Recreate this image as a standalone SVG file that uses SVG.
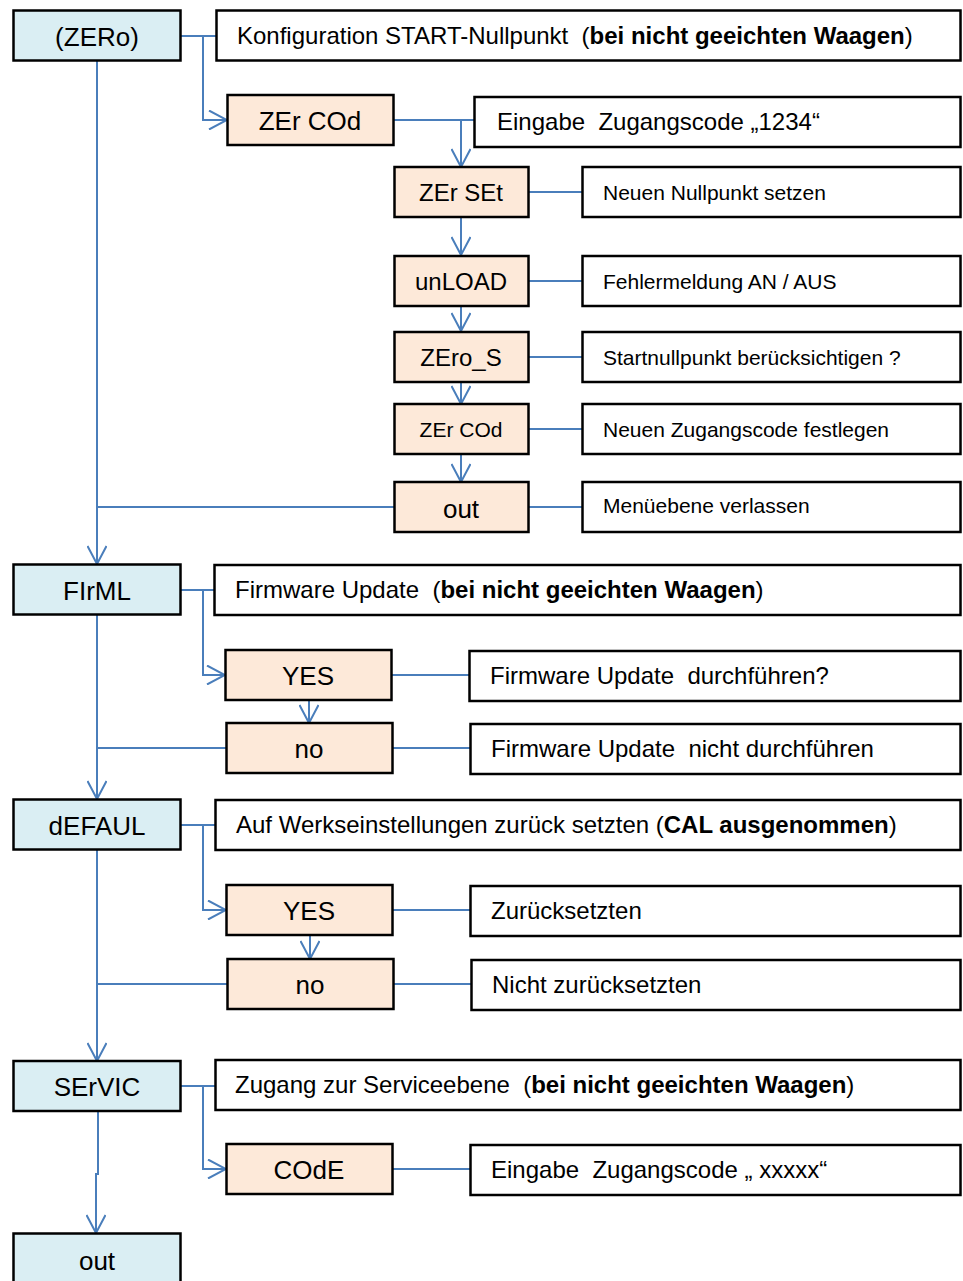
<svg xmlns="http://www.w3.org/2000/svg" width="963" height="1281" viewBox="0 0 963 1281">
<style>
.bg{fill:#ffffff}
.main{fill:#DAEEF3;stroke:#000;stroke-width:2.5}
.sub{fill:#FDE9D9;stroke:#000;stroke-width:2.5}
.desc{fill:#ffffff;stroke:#000;stroke-width:2.5}
text{white-space:pre}
.lbl{font-family:"Liberation Sans",Arial,sans-serif;font-size:26px;fill:#000;text-anchor:middle}
.lbl24{font-family:"Liberation Sans",Arial,sans-serif;font-size:24px;fill:#000;text-anchor:middle}
.lbl21{font-family:"Liberation Sans",Arial,sans-serif;font-size:21px;fill:#000;text-anchor:middle}
.t24{font-family:"Liberation Sans",Arial,sans-serif;font-size:24px;fill:#000}
.t21{font-family:"Liberation Sans",Arial,sans-serif;font-size:21px;fill:#000}
.b{font-weight:bold}
.c{fill:none;stroke:#4A7EBB;stroke-width:2}
.ca{fill:none;stroke:#4A7EBB;stroke-width:2;marker-end:url(#arr)}
</style>
<defs>
<marker id="arr" viewBox="0 0 20 20" markerWidth="20" markerHeight="20" markerUnits="userSpaceOnUse" refX="19" refY="10" orient="auto">
<path d="M1,0.5 L19,10 L1,19.5" fill="none" stroke="#4A7EBB" stroke-width="2"/>
</marker>
</defs>
<rect class="bg" x="0" y="0" width="963" height="1281"/>

<g id="connectors">
<path class="c" d="M180,36 H216"/>
<path class="ca" d="M203,36 V120 H227"/>
<path class="c" d="M393,120 H474"/>
<path class="ca" d="M461,120 V167"/>
<path class="ca" d="M461,217 V255"/>
<path class="ca" d="M461,306 V331"/>
<path class="ca" d="M461,382 V404"/>
<path class="ca" d="M461,454 V482"/>
<path class="c" d="M528,192 H582"/>
<path class="c" d="M528,281 H582"/>
<path class="c" d="M528,357 H582"/>
<path class="c" d="M528,429 H582"/>
<path class="c" d="M528,507 H582"/>
<path class="c" d="M394,507 H97"/>
<path class="ca" d="M97,61 V564"/>
<path class="c" d="M181,590 H214"/>
<path class="ca" d="M203,590 V675 H225"/>
<path class="c" d="M391,675 H469"/>
<path class="ca" d="M309,700 V723"/>
<path class="c" d="M393,748 H470"/>
<path class="c" d="M226,748 H97"/>
<path class="ca" d="M97,615 V799"/>
<path class="c" d="M181,825 H215"/>
<path class="ca" d="M203,825 V910 H226"/>
<path class="c" d="M392,910 H470"/>
<path class="ca" d="M310,935 V959"/>
<path class="c" d="M393,984 H471"/>
<path class="c" d="M227,984 H97"/>
<path class="ca" d="M97,850 V1061"/>
<path class="c" d="M180,1086 H215"/>
<path class="ca" d="M203,1086 V1169 H226"/>
<path class="c" d="M392,1169 H470"/>
<path class="ca" d="M98,1111 V1174 H96 V1233"/>
</g>

<g id="n-zero">
<rect class="main" x="13.5" y="10.5" width="167" height="50"/>
<text class="lbl" x="97" y="46">(ZERo)</text>
</g>
<g id="d-zero">
<rect class="desc" x="216.5" y="10.5" width="744" height="50"/>
<text class="t24" x="237" y="44">Konfiguration START-Nullpunkt  (<tspan class="b">bei nicht geeichten Waagen</tspan>)</text>
</g>
<g id="n-zercod">
<rect class="sub" x="227.5" y="95" width="166" height="50"/>
<text class="lbl" x="310" y="130">ZEr COd</text>
</g>
<g id="d-zercod">
<rect class="desc" x="474.5" y="97" width="486" height="50"/>
<text class="t24" x="497" y="130">Eingabe  Zugangscode „1234“</text>
</g>
<g id="n-zerset">
<rect class="sub" x="394.5" y="167" width="134" height="50"/>
<text class="lbl24" x="461" y="201">ZEr SEt</text>
</g>
<g id="d-zerset">
<rect class="desc" x="582.5" y="167" width="378" height="50"/>
<text class="t21" x="603" y="200">Neuen Nullpunkt setzen</text>
</g>
<g id="n-unload">
<rect class="sub" x="394.5" y="256" width="134" height="50"/>
<text class="lbl24" x="461" y="290">unLOAD</text>
</g>
<g id="d-unload">
<rect class="desc" x="582.5" y="256" width="378" height="50"/>
<text class="t21" x="603" y="289">Fehlermeldung AN / AUS</text>
</g>
<g id="n-zeros">
<rect class="sub" x="394.5" y="332" width="134" height="50"/>
<text class="lbl24" x="461" y="366">ZEro_S</text>
</g>
<g id="d-zeros">
<rect class="desc" x="582.5" y="332" width="378" height="50"/>
<text class="t21" x="603" y="365">Startnullpunkt berücksichtigen ?</text>
</g>
<g id="n-zercod2">
<rect class="sub" x="394.5" y="404" width="134" height="50"/>
<text class="lbl21" x="461" y="437">ZEr COd</text>
</g>
<g id="d-zercod2">
<rect class="desc" x="582.5" y="404" width="378" height="50"/>
<text class="t21" x="603" y="437">Neuen Zugangscode festlegen</text>
</g>
<g id="n-out1">
<rect class="sub" x="394.5" y="482" width="134" height="50"/>
<text class="lbl" x="461" y="518">out</text>
</g>
<g id="d-out1">
<rect class="desc" x="582.5" y="482" width="378" height="50"/>
<text class="t21" x="603" y="513">Menüebene verlassen</text>
</g>

<g id="n-firml">
<rect class="main" x="13.5" y="564.5" width="167" height="50"/>
<text class="lbl" x="97" y="600">FIrML</text>
</g>
<g id="d-firml">
<rect class="desc" x="214.5" y="565" width="746" height="50"/>
<text class="t24" x="235" y="598">Firmware Update  (<tspan class="b">bei nicht geeichten Waagen</tspan>)</text>
</g>
<g id="n-yes1">
<rect class="sub" x="225.5" y="650" width="166" height="50"/>
<text class="lbl" x="308" y="685">YES</text>
</g>
<g id="d-yes1">
<rect class="desc" x="469.5" y="651" width="491" height="50"/>
<text class="t24" x="490" y="684">Firmware Update  durchführen?</text>
</g>
<g id="n-no1">
<rect class="sub" x="226.5" y="723" width="166" height="50"/>
<text class="lbl" x="309" y="758">no</text>
</g>
<g id="d-no1">
<rect class="desc" x="470.5" y="724" width="490" height="50"/>
<text class="t24" x="491" y="757">Firmware Update  nicht durchführen</text>
</g>

<g id="n-default">
<rect class="main" x="13.5" y="799.5" width="167" height="50"/>
<text class="lbl" x="97" y="835">dEFAUL</text>
</g>
<g id="d-default">
<rect class="desc" x="215.5" y="800" width="745" height="50"/>
<text class="t24" x="236" y="833">Auf Werkseinstellungen zurück setzten (<tspan class="b">CAL ausgenommen</tspan>)</text>
</g>
<g id="n-yes2">
<rect class="sub" x="226.5" y="885" width="166" height="50"/>
<text class="lbl" x="309" y="920">YES</text>
</g>
<g id="d-yes2">
<rect class="desc" x="470.5" y="886" width="490" height="50"/>
<text class="t24" x="491" y="919">Zurücksetzten</text>
</g>
<g id="n-no2">
<rect class="sub" x="227.5" y="959" width="166" height="50"/>
<text class="lbl" x="310" y="994">no</text>
</g>
<g id="d-no2">
<rect class="desc" x="471.5" y="960" width="489" height="50"/>
<text class="t24" x="492" y="993">Nicht zurücksetzten</text>
</g>

<g id="n-service">
<rect class="main" x="13.5" y="1061" width="167" height="50"/>
<text class="lbl" x="97" y="1096">SErVIC</text>
</g>
<g id="d-service">
<rect class="desc" x="215.5" y="1060" width="745" height="50"/>
<text class="t24" x="235" y="1093">Zugang zur Serviceebene  (<tspan class="b">bei nicht geeichten Waagen</tspan>)</text>
</g>
<g id="n-code">
<rect class="sub" x="226.5" y="1144" width="166" height="50"/>
<text class="lbl" x="309" y="1179">COdE</text>
</g>
<g id="d-code">
<rect class="desc" x="470.5" y="1145" width="490" height="50"/>
<text class="t24" x="491" y="1178">Eingabe  Zugangscode „ xxxxx“</text>
</g>

<g id="n-out2">
<rect class="main" x="13.5" y="1233.5" width="167" height="50"/>
<text class="lbl" x="97" y="1270">out</text>
</g>
</svg>
